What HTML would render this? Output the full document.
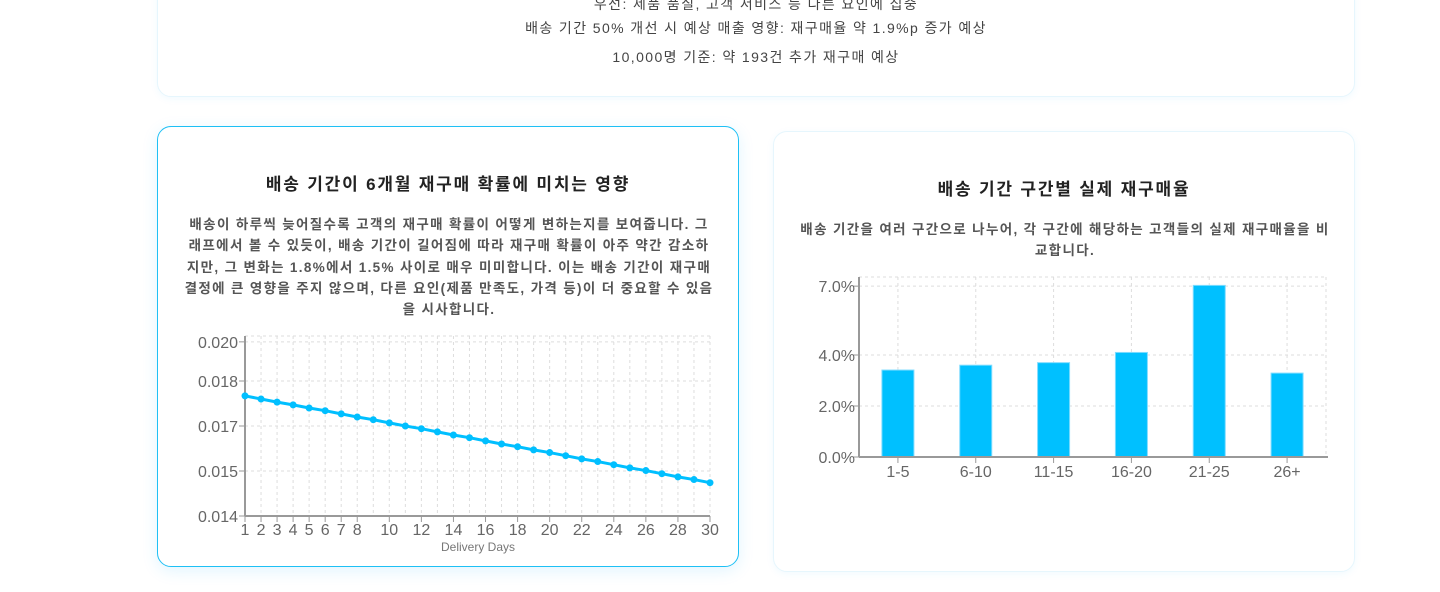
<!DOCTYPE html>
<html><head><meta charset="utf-8">
<style>
body{margin:0;width:1440px;height:592px;background:#fff;overflow:hidden;position:relative;font-family:"Liberation Sans","Noto Sans CJK KR",sans-serif;color:#333}
.card{position:absolute;background:#fff;border-radius:14px;box-sizing:border-box}
.top{left:157px;top:-20px;width:1198px;height:117px;border:1px solid #e6f6fd;box-shadow:0 2px 8px rgba(0,170,255,0.06)}
.top p{margin:0;position:absolute;left:0;width:100%;text-align:center;font-size:14px;color:#444;letter-spacing:1.4px}
.left{left:157px;top:126px;width:582px;height:441px;border:1px solid #1ec0f5;box-shadow:0 4px 16px rgba(0,170,255,0.12)}
.right{left:773px;top:131px;width:582px;height:441px;border:1px solid #e6f6fd;box-shadow:0 2px 8px rgba(0,170,255,0.06)}
h3{position:absolute;left:0;width:100%;text-align:center;margin:0;font-size:17px;font-weight:bold;color:#222;letter-spacing:1.8px}
.desc{position:absolute;text-align:center;font-size:13.5px;font-weight:bold;color:#555;line-height:21.3px;margin:0;white-space:nowrap;letter-spacing:1.35px}
svg{position:absolute;left:0;top:0}
</style></head><body>
<div class="card top">
<p style="top:13px">우선: 제품 품질, 고객 서비스 등 다른 요인에 집중</p>
<p style="top:37px">배송 기간 50% 개선 시 예상 매출 영향: 재구매율 약 1.9%p 증가 예상</p>
<p style="top:66px">10,000명 기준: 약 193건 추가 재구매 예상</p>
</div>
<div class="card left">
<h3 style="top:43px">배송 기간이 6개월 재구매 확률에 미치는 영향</h3>
<p class="desc" style="left:0;width:582px;top:87px">배송이 하루씩 늦어질수록 고객의 재구매 확률이 어떻게 변하는지를 보여줍니다. 그<br>래프에서 볼 수 있듯이, 배송 기간이 길어짐에 따라 재구매 확률이 아주 약간 감소하<br>지만, 그 변화는 1.8%에서 1.5% 사이로 매우 미미합니다. 이는 배송 기간이 재구매<br>결정에 큰 영향을 주지 않으며, 다른 요인(제품 만족도, 가격 등)이 더 중요할 수 있음<br>을 시사합니다.</p>
</div>
<div class="card right">
<h3 style="top:43px">배송 기간 구간별 실제 재구매율</h3>
<p class="desc" style="left:0;width:582px;top:87px">배송 기간을 여러 구간으로 나누어, 각 구간에 해당하는 고객들의 실제 재구매율을 비<br>교합니다.</p>
</div>
<svg id="chart" width="1440" height="592"></svg>
<script>
const days=[1,2,3,4,5,6,7,8,9,10,11,12,13,14,15,16,17,18,19,20,21,22,23,24,25,26,27,28,29,30];
const probs=[0.01667,0.01660,0.01653,0.01647,0.01640,0.01634,0.01627,0.01620,0.01614,0.01607,0.01600,0.01594,0.01587,0.01580,0.01574,0.01567,0.01560,0.01554,0.01547,0.01541,0.01534,0.01527,0.01521,0.01514,0.01507,0.01501,0.01494,0.01487,0.01481,0.01474];
const yTicks=[0.014,0.015,0.016,0.017,0.01787];
const yTickLabels=["0.014","0.015","0.017","0.018","0.020"];
const xTicks=[1,2,3,4,5,6,7,8,10,12,14,16,18,20,22,24,26,28,30];
const xGrid=[1,2,3,4,5,6,7,8,9,10,11,12,13,14,15,16,17,18,19,20,21,22,23,24,25,26,27,28,29,30];
const bins=["1-5","6-10","11-15","16-20","21-25","26+"];
const rates=[0.0341,0.0360,0.0370,0.0410,0.0673,0.0329];
const rTicks=[0,0.02,0.04,0.067];
const rTickLabels=["0.0%","2.0%","4.0%","7.0%"];
const svg=document.getElementById('chart');const NS='http://www.w3.org/2000/svg';
function mk(t,a,p){const e=document.createElementNS(NS,t);for(const k in a)e.setAttribute(k,a[k]);(p||svg).appendChild(e);return e;}
const lx=d=>245+(d-1)*(465/29);
const ly=v=>516-(v-0.014)*45000;
const g1=mk('g',{});


xGrid.forEach(d=>{mk('line',{x1:lx(d),x2:lx(d),y1:336,y2:516,stroke:'#ddd','stroke-dasharray':'3 3'},g1);});
mk('line',{x1:245,x2:710,y1:336,y2:336,stroke:'#ddd','stroke-dasharray':'3 3'},g1);
yTicks.forEach((t,i)=>{mk('line',{x1:245,x2:710,y1:ly(t),y2:ly(t),stroke:'#ddd','stroke-dasharray':'3 3'},g1);
mk('line',{x1:239,x2:245,y1:ly(t),y2:ly(t),stroke:'#999'},g1);
const tx=mk('text',{x:238,y:ly(t)+6,'text-anchor':'end','font-size':'16',fill:'#666'},g1);tx.textContent=yTickLabels[i];

});
mk('line',{x1:245,x2:245,y1:336,y2:516,stroke:'#999','stroke-width':2},g1);
mk('line',{x1:245,x2:710,y1:516,y2:516,stroke:'#999','stroke-width':2},g1);
xTicks.forEach(d=>{mk('line',{x1:lx(d),x2:lx(d),y1:516,y2:522,stroke:'#999'},g1);
const tx=mk('text',{x:lx(d),y:535,'text-anchor':'middle','font-size':'16',fill:'#666'},g1);tx.textContent=d;

});
const xt=mk('text',{x:478,y:551,'text-anchor':'middle','font-size':'12',fill:'#777'},g1);xt.textContent='Delivery Days';


const pl=mk('polyline',{points:days.map((d,i)=>lx(d)+','+ly(probs[i])).join(' '),fill:'none',stroke:'#00bfff','stroke-width':3},g1);


days.forEach((d,i)=>{const c=mk('circle',{cx:lx(d),cy:ly(probs[i]),r:3.5,fill:'#00bfff'},g1);

});
const bx0=859,bx1=1326,bw=(bx1-bx0)/6;
const by=v=>457-v*2550;
const g2=mk('g',{});


bins.forEach((b,i)=>{const cx=bx0+bw*(i+0.5);mk('line',{x1:cx,x2:cx,y1:277,y2:457,stroke:'#ddd','stroke-dasharray':'3 3'},g2);});
mk('line',{x1:bx1,x2:bx1,y1:277,y2:457,stroke:'#ddd','stroke-dasharray':'3 3'},g2);
rTicks.forEach((t,i)=>{mk('line',{x1:bx0,x2:bx1,y1:by(t),y2:by(t),stroke:'#ddd','stroke-dasharray':'3 3'},g2);
mk('line',{x1:bx0-6,x2:bx0,y1:by(t),y2:by(t),stroke:'#999'},g2);
const tx=mk('text',{x:bx0-4,y:by(t)+6,'text-anchor':'end','font-size':'16',fill:'#666'},g2);tx.textContent=rTickLabels[i];

});
mk('line',{x1:bx0,x2:bx1,y1:277,y2:277,stroke:'#ddd','stroke-dasharray':'3 3'},g2);
bins.forEach((b,i)=>{const cx=bx0+bw*(i+0.5);
const r=mk('rect',{x:cx-16,y:by(rates[i]),width:32,height:457-by(rates[i]),fill:'#00c0ff',stroke:'#7fdcff','stroke-width':1},g2);


mk('line',{x1:cx,x2:cx,y1:457,y2:463,stroke:'#999'},g2);
const tx=mk('text',{x:cx,y:477,'text-anchor':'middle','font-size':'16',fill:'#666'},g2);tx.textContent=b;

});
mk('line',{x1:bx0,x2:bx0,y1:277,y2:457,stroke:'#999','stroke-width':2},g2);
mk('line',{x1:bx0,x2:bx1+2,y1:457,y2:457,stroke:'#999','stroke-width':2},g2);
</script>
</body></html>
